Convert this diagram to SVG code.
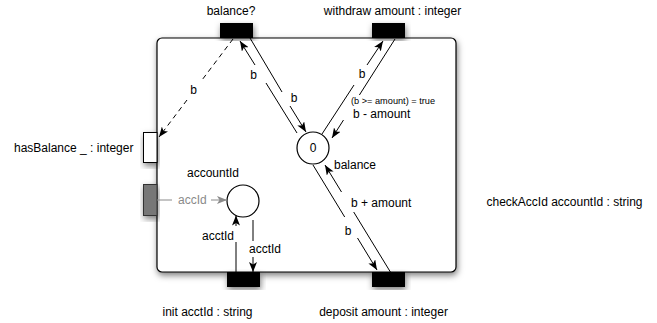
<svg xmlns="http://www.w3.org/2000/svg" width="657" height="323" viewBox="0 0 657 323">
  <style>
    text { font-family: "Liberation Sans", Arial, Helvetica, sans-serif; font-size: 12px; fill: #000; }
    .mid { text-anchor: middle; }
    .small { font-size: 9.2px; }
    .grey { fill: #8a8a8a; }
    .box { fill: #fff; stroke: #000; stroke-width: 1.2; }
    .port { fill: #000; stroke: #000; stroke-width: 1; }
    .place { fill: #fff; stroke: #000; stroke-width: 1.2; }
    .arc { fill: none; stroke: #000; stroke-width: 1; marker-end: url(#head); }
    .dashed { stroke-dasharray: 5 4; }
    .arc-grey { fill: none; stroke: #8a8a8a; stroke-width: 1; marker-end: url(#head-grey); }
  </style>
  <defs>
    <filter id="shadow" x="-20%" y="-20%" width="140%" height="140%">
      <feDropShadow dx="1" dy="3" stdDeviation="3" flood-color="#000" flood-opacity="0.5"/>
    </filter>
    <marker id="head" viewBox="0 0 10 8" refX="10" refY="4" markerWidth="10" markerHeight="8" markerUnits="userSpaceOnUse" orient="auto">
      <path d="M0,0 L10,4 L0,8 L2.5,4 z" fill="#000"/>
    </marker>
    <marker id="head-grey" viewBox="0 0 10 8" refX="10" refY="4" markerWidth="10" markerHeight="8" markerUnits="userSpaceOnUse" orient="auto">
      <path d="M0,0 L10,4 L0,8 L2.5,4 z" fill="#8a8a8a"/>
    </marker>
  </defs>

  <!-- component body -->
  <g id="account">
    <rect class="box" x="157" y="38" width="299" height="234" rx="5" ry="5" filter="url(#shadow)"/>
  </g>

  <!-- ports on the component border -->
  <g id="port-balance">
    <rect class="port" x="220.5" y="23.5" width="32" height="14" filter="url(#shadow)"/>
    <text class="mid" x="231" y="15">balance?</text>
  </g>
  <g id="port-withdraw">
    <rect class="port" x="372.5" y="23.5" width="32" height="14" filter="url(#shadow)"/>
    <text class="mid" x="392.5" y="15">withdraw amount : integer</text>
  </g>
  <g id="port-init">
    <rect class="port" x="227.5" y="272.5" width="32" height="14" filter="url(#shadow)"/>
    <text class="mid" x="207.5" y="316">init acctId : string</text>
  </g>
  <g id="port-deposit">
    <rect class="port" x="372.5" y="272.5" width="32" height="14" filter="url(#shadow)"/>
    <text class="mid" x="383.5" y="316">deposit amount : integer</text>
  </g>
  <g id="port-hasBalance">
    <rect x="143.5" y="132.5" width="13.5" height="30" fill="#fff" stroke="#000" filter="url(#shadow)"/>
    <text x="14" y="152">hasBalance _ : integer</text>
  </g>
  <g id="port-checkAccId">
    <rect x="143.5" y="184.5" width="13.5" height="31" fill="#777" stroke="#333" filter="url(#shadow)"/>
    <text class="mid" x="564.5" y="206">checkAccId accountId : string</text>
  </g>

  <!-- places -->
  <g id="place-balance">
    <circle class="place" cx="313" cy="148" r="16"/>
    <text class="mid" x="313" y="152">0</text>
  </g>
  <g id="place-accountId">
    <circle class="place" cx="243" cy="201" r="16"/>
    <text class="mid" x="213" y="177">accountId</text>
  </g>

  <!-- connectors -->
  <g id="connectors">
    <!-- balance query -->
    <path class="arc dashed" d="M233,39 L202,80 M187,100 L159,137"/>
    <path class="arc" d="M297,133 L266,83 M255,65 L240,41"/>
    <path class="arc" d="M250,38 L282,92 M290,106 L306,132"/>
    <!-- withdraw -->
    <path class="arc" d="M322,134 L354,85 M367,65 L383,41"/>
    <path class="arc" d="M395,39 L359.4,95 M343.5,120 L332,138"/>
    <!-- deposit -->
    <path class="arc" d="M313,165 L344.7,217 M357.5,238 L377,270"/>
    <path class="arc" d="M391,273 L353.7,212 M341.5,192 L325,165"/>
    <!-- account id -->
    <path class="arc-grey" d="M157,200 L172,200 M211,200 L227,200"/>
    <path class="arc" d="M236,272 L236,242 M236,226 L236,215.5"/>
    <path class="arc" d="M253,220 L253,241 M253,257 L253,272"/>

    <text class="mid" x="193.5" y="94">b</text>
    <text class="mid" x="253.5" y="79">b</text>
    <text class="mid" x="294" y="102">b</text>
    <text class="mid" x="362" y="78">b</text>
    <text class="small" x="351" y="104">(b &gt;= amount) = true</text>
    <text x="353" y="118">b - amount</text>
    <text x="334" y="169">balance</text>
    <text x="351" y="207">b + amount</text>
    <text class="mid" x="348" y="235">b</text>
    <text class="grey" x="178" y="204">accId</text>
    <text x="202" y="240">acctId</text>
    <text x="249" y="253">acctId</text>
  </g>
</svg>
